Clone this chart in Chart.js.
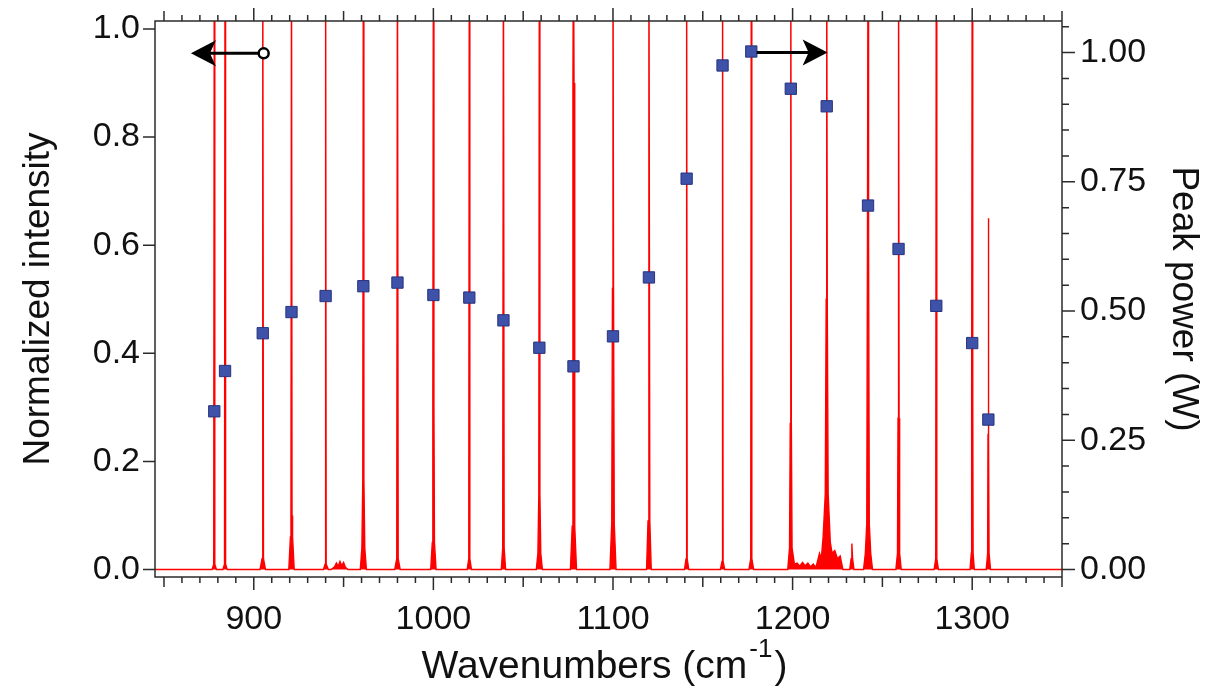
<!DOCTYPE html>
<html lang="en">
<head>
<meta charset="UTF-8">
<title>Spectrum and peak power</title>
<script src="https://cdn.jsdelivr.net/npm/chart.js"></script>
<style>
  html, body { margin: 0; padding: 0; background: #fff; }
  canvas { display: block; }
</style>
</head>
<body>
<canvas id="spectrumChart" width="1225" height="689"></canvas>
<script>
// lines of the comb and their peak power (right axis, W)
const lineWavenumbers = [878, 884, 905, 921, 940, 961, 980, 1000, 1020, 1039, 1059, 1078,
                         1100, 1120, 1141, 1161, 1177, 1199, 1219, 1242, 1259, 1280, 1300, 1309];
const peakPower = [0.306, 0.384, 0.457, 0.498, 0.529, 0.548, 0.555, 0.531, 0.526, 0.482, 0.429, 0.393,
                   0.451, 0.565, 0.756, 0.975, 1.002, 0.930, 0.896, 0.704, 0.620, 0.510, 0.438, 0.290];

// normalized spectrum (left axis); 1.2 = off scale
const specX = [
  845,
  876.8, 877.7, 878, 878.3, 879.2,
  882.8, 883.7, 884, 884.3, 885.2,
  903.5, 904.6, 905, 905.4, 906.5,
  919.5, 920.4, 920.7, 921, 921.3, 921.6, 922.5,
  938.8, 939.7, 940, 940.3, 941.5,
  943, 945, 946, 947, 948, 949, 950, 951, 952.5,
  959.3, 960.2, 960.7, 961, 961.3, 961.8, 962.7,
  978.5, 979.6, 980, 980.4, 981.5,
  998.5, 999.4, 999.7, 1000, 1000.3, 1000.6, 1001.5,
  1018.8, 1019.7, 1020, 1020.3, 1021.2,
  1037.8, 1038.6, 1039, 1039.4, 1040.2,
  1057.3, 1058.2, 1058.7, 1059, 1059.3, 1059.8, 1060.7,
  1076.3, 1077.3, 1077.7, 1078, 1078.3, 1078.7, 1079.7,
  1098.3, 1099.3, 1099.7, 1100, 1100.3, 1100.7, 1101.7,
  1118.7, 1119.5, 1120, 1120.5, 1121.3,
  1139.8, 1140.7, 1141, 1141.3, 1142.2,
  1159.8, 1160.7, 1161, 1161.3, 1162.2,
  1175.7, 1176.7, 1177, 1177.3, 1178.3,
  1197.3, 1198.3, 1198.7, 1199, 1199.3, 1199.7, 1201, 1202.5, 1204, 1205.5, 1207, 1208.5, 1210, 1211.5, 1213,
  1215, 1216, 1217, 1218.2, 1218.7, 1219, 1219.3, 1219.8, 1221, 1222, 1223.5, 1225, 1226.5, 1228,
  1231.8, 1232.6, 1233, 1233.4, 1234.2,
  1239.5, 1240.5, 1241.3, 1241.7, 1242, 1242.3, 1242.7, 1243.5, 1244.5,
  1257.5, 1258.4, 1258.7, 1259, 1259.3, 1259.6, 1260.5,
  1278.8, 1279.7, 1280, 1280.3, 1281.2,
  1298.8, 1299.5, 1299.7, 1300, 1300.3, 1300.5, 1301.2,
  1307.8, 1308.6, 1308.8, 1309, 1309.2, 1309.4, 1310.2,
  1350
];
const specY = [
  0,
  0, 0.01, 1.2, 0.01, 0,
  0, 0.01, 1.2, 0.01, 0,
  0, 0.02, 1.2, 0.02, 0,
  0, 0.06, 0.1, 1.2, 0.1, 0.06, 0,
  0, 0.01, 1.2, 0.01, 0,
  0, 0.005, 0.012, 0.006, 0.015, 0.007, 0.013, 0.004, 0,
  0, 0.04, 0.17, 1.2, 0.17, 0.04, 0,
  0, 0.02, 1.2, 0.02, 0,
  0, 0.05, 0.3, 1.2, 0.3, 0.05, 0,
  0, 0.02, 1.2, 0.02, 0,
  0, 0.04, 1.2, 0.04, 0,
  0, 0.03, 0.14, 1.2, 0.14, 0.03, 0,
  0, 0.08, 0.9, 1.2, 0.9, 0.08, 0,
  0, 0.085, 0.52, 1.2, 0.52, 0.085, 0,
  0, 0.09, 1.2, 0.09, 0,
  0, 0.02, 1.2, 0.02, 0,
  0, 0.015, 1.2, 0.015, 0,
  0, 0.02, 1.2, 0.02, 0,
  0, 0.04, 0.27, 1.2, 0.27, 0.04, 0.01, 0.012, 0.006, 0.013, 0.007, 0.012, 0.005, 0.01, 0.004,
  0.03, 0.02, 0.06, 0.14, 0.5, 1.2, 0.5, 0.14, 0.05, 0.03, 0.035, 0.02, 0.025, 0,
  0, 0.02, 0.048, 0.02, 0,
  0, 0.03, 0.085, 0.61, 1.2, 0.61, 0.085, 0.03, 0,
  0, 0.03, 0.28, 1.2, 0.28, 0.03, 0,
  0, 0.02, 1.2, 0.02, 0,
  0, 0.03, 0.32, 1.2, 0.32, 0.03, 0,
  0, 0.03, 0.25, 0.65, 0.25, 0.03, 0,
  0
];

// tick labels
const xTickLabels = [900, 1000, 1100, 1200, 1300];
const yTickLabels = [0, 0.2, 0.4, 0.6, 0.8, 1.0];
const y2TickLabels = [0, 0.25, 0.5, 0.75, 1.0];

// axis arrows (data units)
const leftArrow = { circle: 905.5, tip: 865, level: 0.955 };   // left axis
const rightArrow = { start: 1180, tip: 1219.5, level: 1.0 };   // right axis

const FONT = "'Liberation Sans', Arial, sans-serif";
const INK = '#111';

// frame, tick marks, arrows and x title
const decorations = {
  id: 'decorations',
  afterDraw(chart) {
    const { ctx, chartArea: a, scales: { x, y, y2 } } = chart;
    ctx.save();
    ctx.strokeStyle = '#2b2b2b';
    ctx.lineWidth = 1.5;
    ctx.beginPath();
    ctx.rect(a.left, a.top, a.right - a.left, a.bottom - a.top);
    for (let v = 850; v <= 1350; v += 10) {
      const px = x.getPixelForValue(v);
      const len = v % 100 === 0 ? 13 : (v % 50 === 0 ? 10 : 6);
      ctx.moveTo(px, a.bottom); ctx.lineTo(px, a.bottom + len);
      ctx.moveTo(px, a.top); ctx.lineTo(px, a.top - len);
    }
    yTickLabels.forEach(v => {
      const py = y.getPixelForValue(v);
      ctx.moveTo(a.left, py); ctx.lineTo(a.left - 12, py);
    });
    for (let i = 0; i <= 21; i++) {
      const py = y2.getPixelForValue(i * 0.05);
      ctx.moveTo(a.right, py); ctx.lineTo(a.right + (i % 5 === 0 ? 13 : 7), py);
    }
    ctx.stroke();

    // arrows
    ctx.strokeStyle = '#000';
    ctx.fillStyle = '#000';
    ctx.lineWidth = 3;
    const head = (tipX, yy, dir) => {
      ctx.beginPath();
      ctx.moveTo(tipX, yy);
      ctx.lineTo(tipX - dir * 25, yy - 13);
      ctx.lineTo(tipX - dir * 19, yy);
      ctx.lineTo(tipX - dir * 25, yy + 13);
      ctx.closePath();
      ctx.fill();
    };
    let ly = y.getPixelForValue(leftArrow.level);
    let cx = x.getPixelForValue(leftArrow.circle);
    let tx = x.getPixelForValue(leftArrow.tip);
    ctx.beginPath(); ctx.moveTo(cx - 5, ly); ctx.lineTo(tx + 10, ly); ctx.stroke();
    head(tx, ly, -1);
    ctx.lineWidth = 2.5;
    ctx.beginPath(); ctx.arc(cx, ly, 5, 0, Math.PI * 2);
    ctx.fillStyle = '#fff'; ctx.fill(); ctx.stroke();
    ctx.fillStyle = '#000';
    ctx.lineWidth = 3;
    let ry = y2.getPixelForValue(rightArrow.level);
    let sx = x.getPixelForValue(rightArrow.start);
    tx = x.getPixelForValue(rightArrow.tip);
    ctx.beginPath(); ctx.moveTo(sx, ry); ctx.lineTo(tx - 10, ry); ctx.stroke();
    head(tx, ry, 1);

    // x title with superscript
    ctx.fillStyle = INK;
    ctx.textBaseline = 'alphabetic';
    ctx.textAlign = 'left';
    const big = '39px ' + FONT, small = '26px ' + FONT;
    const t1 = 'Wavenumbers (cm', sup = '-1', t2 = ')';
    ctx.font = big; const w1 = ctx.measureText(t1).width, w3 = ctx.measureText(t2).width;
    ctx.font = small; const w2 = ctx.measureText(sup).width;
    let px = (a.left + a.right) / 2 - 4 - (w1 + w2 + w3 + 4) / 2;
    const base = 678;
    ctx.font = big; ctx.fillText(t1, px, base);
    ctx.font = small; ctx.fillText(sup, px + w1 + 2, base - 21);
    ctx.font = big; ctx.fillText(t2, px + w1 + w2 + 4, base);
    ctx.restore();
  }
};

// keep the plot frame where the reference has it
const noOverflow = s => { s.paddingTop = 0; s.paddingBottom = 0; s.paddingLeft = 0; s.paddingRight = 0; };

new Chart(document.getElementById('spectrumChart'), {
  type: 'line',
  data: {
    datasets: [
      {
        type: 'scatter',
        label: 'Peak power',
        data: lineWavenumbers.map((w, i) => ({ x: w, y: peakPower[i] })),
        yAxisID: 'y2',
        pointStyle: 'rect',
        pointRadius: 8,
        backgroundColor: '#3d52a8',
        borderColor: '#28337d',
        borderWidth: 1,
        order: 0
      },
      {
        label: 'Normalized intensity',
        data: specX.map((v, i) => ({ x: v, y: specY[i] })),
        yAxisID: 'y',
        borderColor: '#ff0000',
        backgroundColor: '#ff0000',
        borderWidth: 1.4,
        pointRadius: 0,
        fill: 'origin',
        tension: 0,
        order: 1
      }
    ]
  },
  options: {
    responsive: false,
    animation: false,
    devicePixelRatio: 1,
    layout: { padding: { top: 21, left: 0, right: 0, bottom: 0 } },
    plugins: { legend: { display: false }, tooltip: { enabled: false } },
    scales: {
      x: {
        type: 'linear', min: 845, max: 1350,
        grid: { display: false, drawTicks: false }, border: { display: false },
        afterFit: s => { s.height = 112; noOverflow(s); },
        afterBuildTicks: s => { s.ticks = xTickLabels.map(v => ({ value: v })); },
        ticks: { font: { family: FONT, size: 34 }, color: INK, padding: 22, maxRotation: 0, callback: v => String(v) }
      },
      y: {
        position: 'left', min: -0.0139, max: 1.0148,
        grid: { display: false, drawTicks: false }, border: { display: false },
        afterFit: s => { s.width = 155; noOverflow(s); },
        afterBuildTicks: s => { s.ticks = yTickLabels.map(v => ({ value: v })); },
        ticks: { font: { family: FONT, size: 34 }, color: INK, padding: 15, callback: v => v.toFixed(1) },
        title: { display: true, text: 'Normalized intensity', color: INK, font: { family: FONT, size: 37 }, padding: { top: 17 } }
      },
      y2: {
        position: 'right', min: -0.0145, max: 1.061,
        grid: { display: false, drawTicks: false }, border: { display: false },
        afterFit: s => { s.width = 163; noOverflow(s); },
        afterBuildTicks: s => { s.ticks = y2TickLabels.map(v => ({ value: v })); },
        ticks: { font: { family: FONT, size: 34 }, color: INK, padding: 18, callback: v => v.toFixed(2) },
        title: { display: true, text: 'Peak power (W)', color: INK, font: { family: FONT, size: 37 }, padding: { top: 20 } }
      }
    }
  },
  plugins: [decorations]
});
</script>
</body>
</html>
